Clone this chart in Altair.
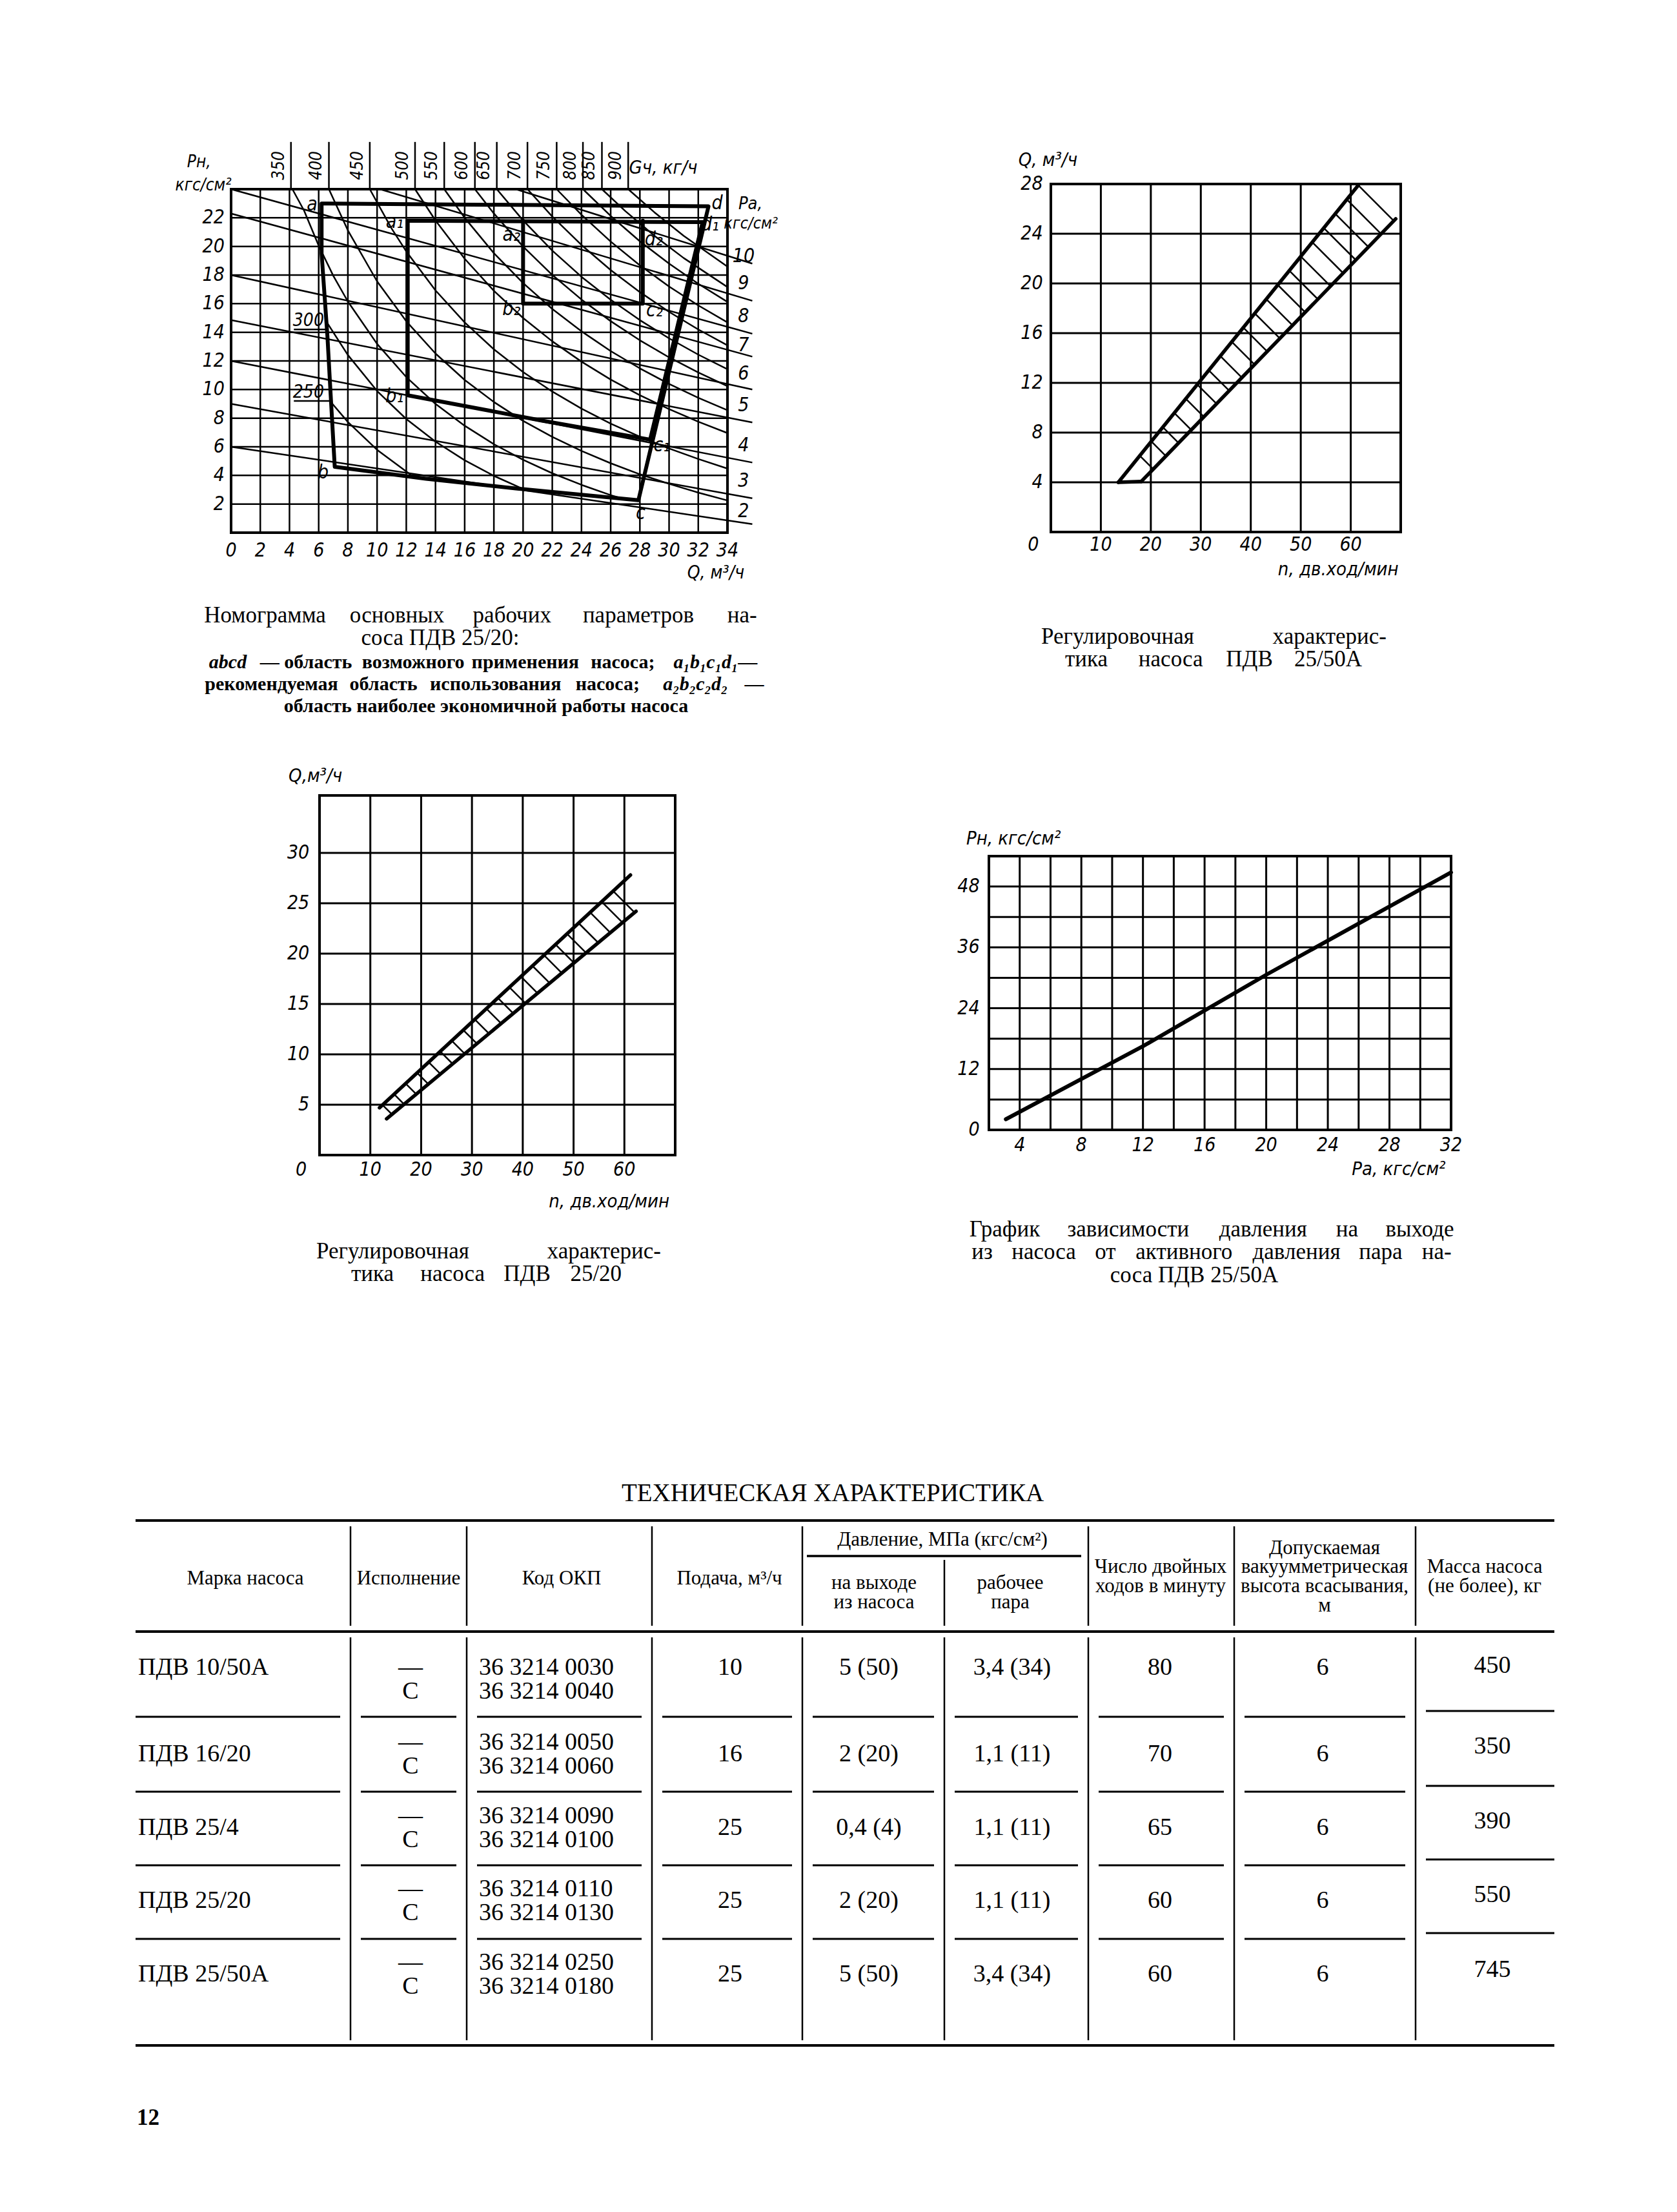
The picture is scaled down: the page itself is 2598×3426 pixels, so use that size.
import altair as alt
import numpy as np
import pandas as pd

# ======================= DATA =======================
# --- Nomogram of pump ПДВ 25/20 ---
nomo_q_ticks = list(range(0, 35, 2))
nomo_p_ticks = list(range(2, 23, 2))
pa_levels = [2, 3, 4, 5, 6, 7, 8, 9, 10]
pa_q_start = [0, 0, 0, 0, 0, 0, 0, 10.2, 19.5]
pa_p_start = [6.0, 9.0, 12.0, 14.85, 18.0, 22.3, 24.0, 24.0, 24.0]
pa_q_end = [35.7, 35.7, 35.7, 35.7, 35.7, 35.7, 35.7, 35.7, 35.7]
pa_p_end = [0.6, 2.4, 4.9, 7.7, 10.0, 12.3, 13.9, 16.2, 18.8]
pa_label_p = [1.5, 3.6, 6.1, 8.9, 11.1, 13.1, 15.1, 17.4, 19.3]

g_levels = [350, 400, 450, 500, 550, 600, 650, 700, 750, 800, 850, 900]
g_q_top = [4.1, 6.7, 9.5, 12.6, 14.6, 16.7, 18.2, 20.3, 22.3, 24.1, 25.4, 27.2]
g_curves_q = {
    250: [6.8, 8, 10, 12, 12.5],
    300: [6.5, 8, 10, 12, 14, 16, 18, 20],
    350: [4.2, 5, 6, 7, 8, 10, 12, 14, 16, 18, 20, 22, 24, 26, 27],
    400: [6.7, 8, 10, 12, 14, 16, 18, 20, 22, 24, 26, 28, 30, 32, 34],
    450: [9.5, 11, 12, 14, 16, 18, 20, 22, 24, 26, 28, 30, 32, 34],
    500: [12.6, 14, 16, 18, 20, 22, 24, 26, 28, 30, 32, 34],
    550: [14.6, 16, 18, 20, 22, 24, 26, 28, 30, 32, 34],
    600: [16.7, 18, 20, 22, 24, 26, 28, 30, 32, 34],
    650: [18.2, 20, 22, 24, 26, 28, 30, 32, 34],
    700: [20.3, 22, 24, 26, 28, 30, 32, 34],
    750: [22.3, 24, 26, 28, 30, 32, 34],
    800: [24.1, 26, 28, 30, 32, 34],
    850: [25.4, 27, 29, 31, 34],
    900: [27.2, 29, 31, 34],
}
g_curves_p = {
    250: [9.17, 7.73, 5.79, 4.27, 3.9],
    300: [14.79, 12.41, 9.9, 7.94, 6.36, 5.06, 3.97, 3.05],
    350: [24.0, 22.5, 20.05, 17.95, 16.15, 13.19, 10.87, 9.0, 7.47, 6.18, 5.09, 4.15, 3.34, 2.62, 2.33],
    400: [24.0, 21.12, 17.56, 14.77, 12.52, 10.67, 9.13, 7.81, 6.69, 5.71, 4.85, 4.08, 3.41, 2.8, 2.25],
    450: [24.0, 21.24, 19.65, 16.93, 14.69, 12.81, 11.22, 9.86, 8.67, 7.62, 6.7, 5.88, 5.15, 4.48],
    500: [24.0, 21.81, 19.14, 16.9, 15.0, 13.37, 11.95, 10.7, 9.6, 8.63, 7.75, 6.96],
    550: [24.0, 22.0, 19.53, 17.44, 15.63, 14.07, 12.69, 11.48, 10.39, 9.42, 8.55],
    600: [24.0, 22.3, 19.99, 18.01, 16.29, 14.78, 13.44, 12.25, 11.19, 10.23],
    650: [24.0, 21.82, 19.71, 17.88, 16.27, 14.85, 13.58, 12.44, 11.42],
    700: [24.0, 22.09, 20.1, 18.35, 16.81, 15.43, 14.2, 13.09],
    750: [24.0, 22.21, 20.34, 18.68, 17.2, 15.88, 14.69],
    800: [24.0, 22.13, 20.36, 18.8, 17.39, 16.12],
    850: [24.0, 22.47, 20.74, 19.19, 17.16],
    900: [24.0, 22.38, 20.74, 18.59],
}
# regions abcd, a1b1c1d1, a2b2c2d2
abcd_q = [6.2, 6.2, 6.6, 6.8, 7.1, 13.35, 19.5, 27.9, 32.7, 6.2]
abcd_p = [23.0, 19.5, 13.7, 10.0, 4.6, 3.77, 3.09, 2.27, 22.8, 23.0]
a1_q = [12.1, 12.1, 21.3, 28.7, 32.3, 12.1]
a1_p = [21.8, 9.6, 7.83, 6.5, 21.7, 21.8]
a2_q = [20.0, 20.0, 28.2, 28.2]
a2_p = [21.8, 16.0, 16.0, 21.8]
point_names = ["a", "d", "d₁", "a₁", "a₂", "d₂", "b₂", "c₂", "b₁", "c₁", "b", "c"]
point_q = [5.55, 33.3, 32.8, 11.2, 19.2, 28.95, 19.2, 29.0, 11.2, 29.5, 6.3, 28.05]
point_p = [22.9, 23.0, 21.5, 21.7, 20.8, 20.5, 15.6, 15.5, 9.5, 6.1, 4.2, 1.35]

# --- Regulating characteristic ПДВ 25/50А ---
c2_x_ticks = [10, 20, 30, 40, 50, 60]
c2_y_ticks = [4, 8, 12, 16, 20, 24, 28]
c2_upper_n = [13.5, 61.5]
c2_upper_q = [4.0, 27.9]
c2_lower_n = [18.1, 69.0]
c2_lower_q = [4.07, 25.2]

# --- Regulating characteristic ПДВ 25/20 ---
c3_x_ticks = [10, 20, 30, 40, 50, 60]
c3_y_ticks = [5, 10, 15, 20, 25, 30]
c3_upper_n = [11.8, 61.2]
c3_upper_q = [4.7, 27.8]
c3_lower_n = [13.2, 62.3]
c3_lower_q = [3.6, 24.2]

# --- Outlet pressure vs active steam pressure ПДВ 25/50А ---
c4_x_ticks = [4, 8, 12, 16, 20, 24, 28, 32]
c4_y_ticks = [0, 12, 24, 36, 48]
c4_pa = [3.1, 12.0, 20.0, 32.0]
c4_pn = [2.1, 16.5, 30.6, 50.8]

# --- Table ---
tbl_marks = ["ПДВ 10/50А", "ПДВ 16/20", "ПДВ 25/4", "ПДВ 25/20", "ПДВ 25/50А"]
tbl_code1 = ["36 3214 0030", "36 3214 0050", "36 3214 0090", "36 3214 0110", "36 3214 0250"]
tbl_code2 = ["36 3214 0040", "36 3214 0060", "36 3214 0100", "36 3214 0130", "36 3214 0180"]
tbl_supply = ["10", "16", "25", "25", "25"]
tbl_p_out = ["5 (50)", "2 (20)", "0,4 (4)", "2 (20)", "5 (50)"]
tbl_p_steam = ["3,4 (34)", "1,1 (11)", "1,1 (11)", "1,1 (11)", "3,4 (34)"]
tbl_strokes = ["80", "70", "65", "60", "60"]
tbl_vacuum = ["6", "6", "6", "6", "6"]
tbl_mass = ["450", "350", "390", "550", "745"]

# ======================= LAYOUT =======================
W, H, M = 2582, 3410, 8
SERIF = "Liberation Serif, DejaVu Serif, serif"
SANS = "Liberation Sans Narrow, DejaVu Sans Condensed, DejaVu Sans, sans-serif"


def xdom(v0, v1, p0, p1):
    u = (v1 - v0) / (p1 - p0)
    d0 = v0 - (p0 - M) * u
    return [d0, d0 + W * u]


def ydom(v0, v1, p0, p1):
    u = (v1 - v0) / (p0 - p1)
    d0 = v0 - (H - (p0 - M)) * u
    return [d0, d0 + H * u]


NX, NY = xdom(0, 34, 358, 1127), ydom(0, 24, 825, 293)
C2X, C2Y = xdom(0, 70, 1628, 2170), ydom(0, 28, 824, 285)
C3X, C3Y = xdom(0, 70, 495, 1046), ydom(0, 35.7, 1789, 1232)
C4X, C4Y = xdom(2, 32, 1532, 2248), ydom(0, 54, 1750, 1326)
PX, PY = [M, M + W], [M + H, M]

layers = []


def sc(d):
    return alt.Scale(domain=d, nice=False, zero=False)


def xy(xd, yd):
    return dict(x=alt.X("x:Q", scale=sc(xd), axis=None),
                y=alt.Y("y:Q", scale=sc(yd), axis=None))


def R(segs, xd, yd, width, cap="butt"):
    df = pd.DataFrame(segs, columns=["x", "y", "x2", "y2"])
    layers.append(alt.Chart(df).mark_rule(color="black", strokeWidth=width, strokeCap=cap)
                  .encode(**xy(xd, yd), x2="x2:Q", y2="y2:Q"))


def L(polys, xd, yd, width):
    rows = [(k, i, a, b) for k, (xs, ys) in enumerate(polys)
            for i, (a, b) in enumerate(zip(xs, ys))]
    df = pd.DataFrame(rows, columns=["k", "i", "x", "y"])
    layers.append(alt.Chart(df).mark_line(color="black", strokeWidth=width,
                                          strokeJoin="round", strokeCap="round")
                  .encode(**xy(xd, yd), detail="k:N", order="i:Q"))


def T(rows, xd, yd, size, font=SANS, italic=False, bold=False, align="center",
      baseline="middle", angle=None):
    if not rows:
        return
    df = pd.DataFrame(rows, columns=["x", "y", "t"])
    kw = dict(fontSize=size, font=font, align=align, baseline=baseline, color="black")
    if italic:
        kw["fontStyle"] = "italic"
    if bold:
        kw["fontWeight"] = "bold"
    if angle is not None:
        kw["angle"] = angle
    layers.append(alt.Chart(df).mark_text(**kw).encode(**xy(xd, yd), text="t:N"))


def justify(words, left, right, y, size, k=0.5):
    ws = [len(w[0]) * k * size for w in words]
    gap = (right - left - sum(ws)) / (len(words) - 1) if len(words) > 1 else 0
    out, x = [], left
    for w, wd in zip(words, ws):
        out.append(((x + wd / 2, y, w[0]), w[1]))
        x += wd + gap
    return out


def JT(words, left, right, y, size, **kw):
    items = justify(words, left, right, y, size)
    T([r for r, st in items if st == "n"], PX, PY, size, font=SERIF, **kw)
    T([r for r, st in items if st == "i"], PX, PY, size, font=SERIF, italic=True, **kw)


def hatch(u0, u1, l0, l1, starts, pxx, pxy):
    u0, u1, l0, l1 = map(np.array, (u0, u1, l0, l1))
    d = np.array([1.0 / pxx, -1.0 / pxy])
    segs = []
    for xs in starts:
        t = (xs - u0[0]) / (u1[0] - u0[0])
        P = u0 + t * (u1 - u0)
        A = np.column_stack([d, -(l1 - l0)])
        s, tt = np.linalg.solve(A, l0 - P)
        if 0 <= tt <= 1:
            Q = P + s * d
            segs.append((P[0], P[1], Q[0], Q[1]))
    return segs


TK = 30  # tick label size

# ======================= NOMOGRAM =======================
R([(q, 0, q, 24) for q in nomo_q_ticks[1:-1]], NX, NY, 2.5)
R([(0, p, 34, p) for p in range(2, 24, 2)], NX, NY, 2.5)
R([(0, 0, 34, 0), (0, 24, 34, 24), (0, 0, 0, 24), (34, 0, 34, 24)], NX, NY, 4, cap="square")
R([(q, 24, q, 27.3) for q in g_q_top], NX, NY, 2.5)
R(list(zip(pa_q_start, pa_p_start, pa_q_end, pa_p_end)), NX, NY, 2.5)
L([(g_curves_q[g], g_curves_p[g]) for g in g_curves_q], NX, NY, 2.5)
R([(4.3, 14.2, 6.5, 14.2), (4.3, 9.2, 6.8, 9.2)], NX, NY, 2.5)
L([(abcd_q, abcd_p), (a1_q, a1_p), (a2_q, a2_p)], NX, NY, 6)
T([(q, -1.25, str(q)) for q in nomo_q_ticks], NX, NY, TK, italic=True)
T([(-0.45, p, str(p)) for p in nomo_p_ticks], NX, NY, TK, italic=True, align="right")
T([(33.2, -2.85, "Q, м³/ч")], NX, NY, 28, italic=True)
T([(-2.2, 25.9, "Pн,"), (-1.9, 24.25, "кгс/см²")], NX, NY, 26, italic=True)
T([(34.75, 22.95, "Pa,")], NX, NY, 27, italic=True, align="left")
T([(33.75, 21.6, "кгс/см²")], NX, NY, 25, italic=True, align="left")
T([(q - 0.85, 25.65, str(g)) for q, g in zip(g_q_top, g_levels)], NX, NY, 26,
  italic=True, angle=270)
T([(29.6, 25.5, "Gч, кг/ч")], NX, NY, 29, italic=True)
T([(35.1, p, str(v)) for v, p in zip(pa_levels, pa_label_p)], NX, NY, TK, italic=True)
T([(5.3, 14.8, "300"), (5.3, 9.8, "250")], NX, NY, 28, italic=True)
T(list(zip(point_q, point_p, point_names)), NX, NY, 30, italic=True)

# ======================= CHART 2 =======================
R([(x, 0, x, 28) for x in c2_x_ticks], C2X, C2Y, 3)
R([(0, y, 70, y) for y in c2_y_ticks[:-1]], C2X, C2Y, 3)
R([(0, 0, 70, 0), (0, 28, 70, 28), (0, 0, 0, 28), (70, 0, 70, 28)], C2X, C2Y, 4, cap="square")
R([(c2_upper_n[0], c2_upper_q[0], c2_upper_n[1], c2_upper_q[1]),
   (c2_lower_n[0], c2_lower_q[0], c2_lower_n[1], c2_lower_q[1]),
   (c2_upper_n[0], c2_upper_q[0], c2_lower_n[0], c2_lower_q[0])], C2X, C2Y, 5.5, cap="round")
px2, py2 = (2170 - 1628) / 70, (824 - 285) / 28
starts2 = [c2_upper_n[1] - 2.3 * k for k in range(0, 22) if c2_upper_n[1] - 2.3 * k > 14.5]
R(hatch((c2_upper_n[0], c2_upper_q[0]), (c2_upper_n[1], c2_upper_q[1]),
        (c2_lower_n[0], c2_lower_q[0]), (c2_lower_n[1] + 0.01, c2_lower_q[1]),
        starts2, px2, py2), C2X, C2Y, 2.5)
T([(-1.6, y, str(y)) for y in c2_y_ticks], C2X, C2Y, TK, italic=True, align="right")
T([(x, -1.05, str(x)) for x in c2_x_ticks], C2X, C2Y, TK, italic=True)
T([(-3.5, -1.05, "0")], C2X, C2Y, TK, italic=True)
T([(-0.6, 29.9, "Q, м³/ч")], C2X, C2Y, 29, italic=True)
T([(57.5, -3.0, "n, дв.ход/мин")], C2X, C2Y, 29, italic=True)

# ======================= CHART 3 =======================
R([(x, 0, x, 35.7) for x in c3_x_ticks], C3X, C3Y, 3)
R([(0, y, 70, y) for y in c3_y_ticks], C3X, C3Y, 3)
R([(0, 0, 70, 0), (0, 35.7, 70, 35.7), (0, 0, 0, 35.7), (70, 0, 70, 35.7)], C3X, C3Y, 4, cap="square")
R([(c3_upper_n[0], c3_upper_q[0], c3_upper_n[1], c3_upper_q[1]),
   (c3_lower_n[0], c3_lower_q[0], c3_lower_n[1], c3_lower_q[1])], C3X, C3Y, 5.5, cap="round")
px3, py3 = (1046 - 495) / 70, (1789 - 1232) / 35.7
starts3 = [57.8 - 2.27 * k for k in range(0, 25) if 57.8 - 2.27 * k > 12.2]
R(hatch((c3_upper_n[0], c3_upper_q[0]), (c3_upper_n[1], c3_upper_q[1]),
        (c3_lower_n[0], c3_lower_q[0]), (c3_lower_n[1], c3_lower_q[1]),
        starts3, px3, py3), C3X, C3Y, 2.5)
T([(-2.0, y, str(y)) for y in c3_y_ticks], C3X, C3Y, TK, italic=True, align="right")
T([(x, -1.5, str(x)) for x in c3_x_ticks], C3X, C3Y, TK, italic=True)
T([(-3.6, -1.5, "0")], C3X, C3Y, TK, italic=True)
T([(-0.8, 37.6, "Q,м³/ч")], C3X, C3Y, 29, italic=True)
T([(57.0, -4.6, "n, дв.ход/мин")], C3X, C3Y, 29, italic=True)

# ======================= CHART 4 =======================
R([(x, 0, x, 54) for x in range(4, 32, 2)], C4X, C4Y, 3)
R([(2, y, 32, y) for y in range(6, 54, 6)], C4X, C4Y, 3)
R([(2, 0, 32, 0), (2, 54, 32, 54), (2, 0, 2, 54), (32, 0, 32, 54)], C4X, C4Y, 4, cap="square")
L([(c4_pa, c4_pn)], C4X, C4Y, 6)
T([(1.4, y, str(y)) for y in c4_y_ticks], C4X, C4Y, TK, italic=True, align="right")
T([(x, -3.0, str(x)) for x in c4_x_ticks], C4X, C4Y, TK, italic=True)
T([(3.6, 57.4, "Pн, кгс/см²")], C4X, C4Y, 29, italic=True)
T([(28.6, -7.8, "Pa, кгс/см²")], C4X, C4Y, 29, italic=True)

# ======================= CAPTIONS =======================
CS = 35
JT([(w, "n") for w in "Номограмма основных рабочих параметров на-".split()], 323, 1176, 953, CS)
T([(682, 988, "соса ПДВ 25/20:")], PX, PY, CS, font=SERIF)
SS = 30
JT([("abcd", "i"), ("— область", "n"), ("возможного", "n"), ("применения", "n"),
    ("насоса;", "n"), ("a₁b₁c₁d₁—", "i")], 323, 1176, 1026, SS, bold=True)
JT([("рекомендуемая", "n"), ("область", "n"), ("использования", "n"), ("насоса;", "n"),
    ("a₂b₂c₂d₂", "i"), ("—", "n")], 323, 1176, 1060, SS, bold=True)
T([(753, 1094, "область наиболее экономичной работы насоса")], PX, PY, SS, font=SERIF, bold=True)

T([(1613, 986, "Регулировочная")], PX, PY, CS, font=SERIF, align="left")
T([(2148, 986, "характерис-")], PX, PY, CS, font=SERIF, align="right")
JT([(w, "n") for w in "тика насоса ПДВ 25/50А".split()], 1648, 2110, 1021, CS)

T([(490, 1938, "Регулировочная")], PX, PY, CS, font=SERIF, align="left")
T([(1024, 1938, "характерис-")], PX, PY, CS, font=SERIF, align="right")
JT([(w, "n") for w in "тика насоса ПДВ 25/20".split()], 542, 967, 1973, CS)

JT([(w, "n") for w in "График зависимости давления на выходе".split()], 1504, 2252, 1904, CS)
JT([(w, "n") for w in "из насоса от активного давления пара на-".split()], 1504, 2252, 1939, CS)
T([(1850, 1975, "соса ПДВ 25/50А")], PX, PY, CS, font=SERIF)

# ======================= TABLE =======================
T([(1290, 2313, "ТЕХНИЧЕСКАЯ ХАРАКТЕРИСТИКА")], PX, PY, 39, font=SERIF)
tl, tr = 210, 2408
vcols = [543, 723, 1010, 1243, 1463, 1686, 1912, 2193]
R([(tl, 2355, tr, 2355), (tl, 2527, tr, 2527), (tl, 3168, tr, 3168)], PX, PY, 4)
R([(1250, 2410, 1675, 2410)], PX, PY, 3.5)
R([(x, 2364 if x != 1463 else 2416, x, 2518) for x in vcols], PX, PY, 2.5)
R([(x, 2536, x, 3160) for x in vcols], PX, PY, 2.5)
row_seps = [2659, 2775, 2889, 3003]
edges = [tl] + vcols + [tr]
seg = []
for ys in row_seps:
    for i in range(len(edges) - 1):
        a = edges[i] + (0 if i == 0 else 16)
        b = edges[i + 1] - (0 if i == len(edges) - 2 else 16)
        yy = ys - 9 if i == len(edges) - 2 else ys
        seg.append((a, yy, b, yy))
R(seg, PX, PY, 3)

HS = 31
T([(380, 2445, "Марка насоса"), (633, 2445, "Исполнение"), (870, 2445, "Код ОКП"),
   (1130, 2445, "Подача, м³/ч"), (1460, 2385, "Давление, МПа (кгс/см²)"),
   (1354, 2452, "на выходе"), (1354, 2482, "из насоса"),
   (1565, 2452, "рабочее"), (1565, 2482, "пара"),
   (1798, 2427, "Число двойных"), (1798, 2457, "ходов в минуту"),
   (2052, 2398, "Допускаемая"), (2052, 2427, "вакуумметрическая"),
   (2052, 2457, "высота всасывания,"), (2052, 2487, "м"),
   (2300, 2427, "Масса насоса"), (2300, 2457, "(не более), кг")], PX, PY, HS, font=SERIF)

code_y1 = [2583, 2699, 2813, 2926, 3040]
code_y2 = [2620, 2736, 2850, 2963, 3077]
single_y = [2583, 2717, 2831, 2944, 3058]
mass_y = [2580, 2705, 2821, 2935, 3051]
BS = 38
T([(214, y, m) for y, m in zip(single_y, tbl_marks)], PX, PY, BS, font=SERIF, align="left")
T([(636, y, "—") for y in code_y1] + [(636, y, "С") for y in code_y2], PX, PY, BS, font=SERIF)
T([(742, y, c) for y, c in zip(code_y1, tbl_code1)] + [(742, y, c) for y, c in zip(code_y2, tbl_code2)],
  PX, PY, BS, font=SERIF, align="left")
T([(1131, y, v) for y, v in zip(single_y, tbl_supply)] +
  [(1346, y, v) for y, v in zip(single_y, tbl_p_out)] +
  [(1568, y, v) for y, v in zip(single_y, tbl_p_steam)] +
  [(1797, y, v) for y, v in zip(single_y, tbl_strokes)] +
  [(2049, y, v) for y, v in zip(single_y, tbl_vacuum)] +
  [(2312, y, v) for y, v in zip(mass_y, tbl_mass)], PX, PY, BS, font=SERIF)
T([(212, 3280, "12")], PX, PY, 35, font=SERIF, bold=True, align="left")

chart = (alt.layer(*layers)
         .resolve_scale(x="independent", y="independent")
         .properties(width=W, height=H, autosize=alt.AutoSizeParams(type="none"), padding=0)
         .configure_view(stroke=None))
chart.save("out.html", embed_options={"renderer": "svg", "actions": False})
